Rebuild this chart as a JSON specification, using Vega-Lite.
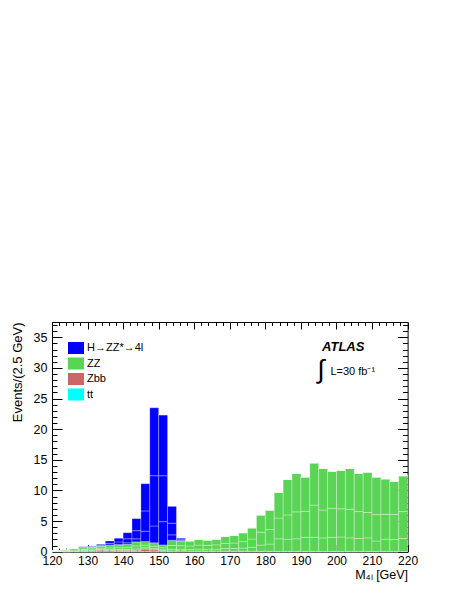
{
  "$schema": "https://vega.github.io/schema/vega-lite/v6.json",
  "width": 355.6,
  "height": 229.7,
  "autosize": {"type": "none"},
  "padding": {"left": 52, "top": 322, "right": 55.4, "bottom": 47.3},
  "background": "white",
  "config": {
    "view": {"stroke": null},
    "font": "Liberation Sans",
    "axis": {
      "domainColor": "black", "tickColor": "black", "domainWidth": 1, "tickWidth": 1,
      "grid": false, "labelFont": "Liberation Sans", "labelFontSize": 12.5, "labelColor": "black",
      "labelFlush": false, "labelOverlap": false, "titleFont": "Liberation Sans", "titleFontWeight": "normal",
      "titleColor": "black"
    }
  },
  "data": {
    "values": [
      {"lo": 120, "hi": 122.5, "a_tt": 0, "b_zbb": 0, "c_zz1": 0.03, "c_zz2": 0.05, "c_zz3": 0.07, "d_h1": 0, "d_h2": 0, "d_h3": 0},
      {"lo": 122.5, "hi": 125, "a_tt": 0, "b_zbb": 0, "c_zz1": 0.05, "c_zz2": 0.1, "c_zz3": 0.15, "d_h1": 0, "d_h2": 0, "d_h3": 0},
      {"lo": 125, "hi": 127.5, "a_tt": 0, "b_zbb": 0.05, "c_zz1": 0.08, "c_zz2": 0.17, "c_zz3": 0.25, "d_h1": 0, "d_h2": 0, "d_h3": 0},
      {"lo": 127.5, "hi": 130, "a_tt": 0, "b_zbb": 0.1, "c_zz1": 0.09, "c_zz2": 0.19, "c_zz3": 0.27, "d_h1": 0.02, "d_h2": 0.05, "d_h3": 0.08},
      {"lo": 130, "hi": 132.5, "a_tt": 0, "b_zbb": 0.15, "c_zz1": 0.1, "c_zz2": 0.21, "c_zz3": 0.29, "d_h1": 0.02, "d_h2": 0.05, "d_h3": 0.08},
      {"lo": 132.5, "hi": 135, "a_tt": 0, "b_zbb": 0.25, "c_zz1": 0.11, "c_zz2": 0.23, "c_zz3": 0.31, "d_h1": 0.04, "d_h2": 0.1, "d_h3": 0.16},
      {"lo": 135, "hi": 137.5, "a_tt": 0, "b_zbb": 0.2, "c_zz1": 0.14, "c_zz2": 0.28, "c_zz3": 0.38, "d_h1": 0.1, "d_h2": 0.26, "d_h3": 0.39},
      {"lo": 137.5, "hi": 140, "a_tt": 0.03, "b_zbb": 0.2, "c_zz1": 0.14, "c_zz2": 0.29, "c_zz3": 0.39, "d_h1": 0.15, "d_h2": 0.4, "d_h3": 0.6},
      {"lo": 140, "hi": 142.5, "a_tt": 0.03, "b_zbb": 0.2, "c_zz1": 0.16, "c_zz2": 0.34, "c_zz3": 0.47, "d_h1": 0.25, "d_h2": 0.66, "d_h3": 0.99},
      {"lo": 142.5, "hi": 145, "a_tt": 0.03, "b_zbb": 0.2, "c_zz1": 0.23, "c_zz2": 0.48, "c_zz3": 0.66, "d_h1": 0.5, "d_h2": 1.33, "d_h3": 1.97},
      {"lo": 145, "hi": 147.5, "a_tt": 0.03, "b_zbb": 0.4, "c_zz1": 0.21, "c_zz2": 0.43, "c_zz3": 0.58, "d_h1": 1.7, "d_h2": 3.3, "d_h3": 4.45},
      {"lo": 147.5, "hi": 150, "a_tt": 0, "b_zbb": 0.3, "c_zz1": 0.2, "c_zz2": 0.4, "c_zz3": 0.55, "d_h1": 2.75, "d_h2": 8.2, "d_h3": 11.1},
      {"lo": 150, "hi": 152.5, "a_tt": 0, "b_zbb": 0.15, "c_zz1": 0.16, "c_zz2": 0.33, "c_zz3": 0.46, "d_h1": 3.8, "d_h2": 7.5, "d_h3": 9.9},
      {"lo": 152.5, "hi": 155, "a_tt": 0, "b_zbb": 0.1, "c_zz1": 0.3, "c_zz2": 0.61, "c_zz3": 0.84, "d_h1": 0.9, "d_h2": 1.9, "d_h3": 2.75},
      {"lo": 155, "hi": 157.5, "a_tt": 0, "b_zbb": 0.15, "c_zz1": 0.27, "c_zz2": 0.56, "c_zz3": 0.77, "d_h1": 0.06, "d_h2": 0.16, "d_h3": 0.23},
      {"lo": 157.5, "hi": 160, "a_tt": 0, "b_zbb": 0.1, "c_zz1": 0.27, "c_zz2": 0.56, "c_zz3": 0.77, "d_h1": 0.01, "d_h2": 0.02, "d_h3": 0.02},
      {"lo": 160, "hi": 162.5, "a_tt": 0, "b_zbb": 0.1, "c_zz1": 0.32, "c_zz2": 0.67, "c_zz3": 0.91, "d_h1": 0, "d_h2": 0, "d_h3": 0},
      {"lo": 162.5, "hi": 165, "a_tt": 0, "b_zbb": 0.1, "c_zz1": 0.31, "c_zz2": 0.63, "c_zz3": 0.86, "d_h1": 0, "d_h2": 0, "d_h3": 0},
      {"lo": 165, "hi": 167.5, "a_tt": 0, "b_zbb": 0.1, "c_zz1": 0.33, "c_zz2": 0.68, "c_zz3": 0.94, "d_h1": 0, "d_h2": 0, "d_h3": 0},
      {"lo": 167.5, "hi": 170, "a_tt": 0, "b_zbb": 0.1, "c_zz1": 0.41, "c_zz2": 0.84, "c_zz3": 1.15, "d_h1": 0, "d_h2": 0, "d_h3": 0},
      {"lo": 170, "hi": 172.5, "a_tt": 0, "b_zbb": 0.1, "c_zz1": 0.43, "c_zz2": 0.89, "c_zz3": 1.23, "d_h1": 0, "d_h2": 0, "d_h3": 0},
      {"lo": 172.5, "hi": 175, "a_tt": 0, "b_zbb": 0.08, "c_zz1": 0.51, "c_zz2": 1.06, "c_zz3": 1.45, "d_h1": 0, "d_h2": 0, "d_h3": 0},
      {"lo": 175, "hi": 177.5, "a_tt": 0, "b_zbb": 0.08, "c_zz1": 0.65, "c_zz2": 1.34, "c_zz3": 1.83, "d_h1": 0, "d_h2": 0, "d_h3": 0},
      {"lo": 177.5, "hi": 180, "a_tt": 0, "b_zbb": 0.08, "c_zz1": 1.0, "c_zz2": 2.1, "c_zz3": 2.82, "d_h1": 0, "d_h2": 0, "d_h3": 0},
      {"lo": 180, "hi": 182.5, "a_tt": 0, "b_zbb": 0.05, "c_zz1": 1.2, "c_zz2": 2.36, "c_zz3": 3.19, "d_h1": 0, "d_h2": 0, "d_h3": 0},
      {"lo": 182.5, "hi": 185, "a_tt": 0, "b_zbb": 0.05, "c_zz1": 2.05, "c_zz2": 3.4, "c_zz3": 4.2, "d_h1": 0, "d_h2": 0, "d_h3": 0},
      {"lo": 185, "hi": 187.5, "a_tt": 0, "b_zbb": 0.05, "c_zz1": 2.0, "c_zz2": 3.95, "c_zz3": 5.8, "d_h1": 0, "d_h2": 0, "d_h3": 0},
      {"lo": 187.5, "hi": 190, "a_tt": 0, "b_zbb": 0.05, "c_zz1": 2.05, "c_zz2": 4.4, "c_zz3": 6.3, "d_h1": 0, "d_h2": 0, "d_h3": 0},
      {"lo": 190, "hi": 192.5, "a_tt": 0, "b_zbb": 0.05, "c_zz1": 2.3, "c_zz2": 4.25, "c_zz3": 5.6, "d_h1": 0, "d_h2": 0, "d_h3": 0},
      {"lo": 192.5, "hi": 195, "a_tt": 0, "b_zbb": 0.05, "c_zz1": 2.3, "c_zz2": 5.25, "c_zz3": 6.9, "d_h1": 0, "d_h2": 0, "d_h3": 0},
      {"lo": 195, "hi": 197.5, "a_tt": 0, "b_zbb": 0.05, "c_zz1": 2.2, "c_zz2": 4.55, "c_zz3": 6.8, "d_h1": 0, "d_h2": 0, "d_h3": 0},
      {"lo": 197.5, "hi": 200, "a_tt": 0, "b_zbb": 0.05, "c_zz1": 2.3, "c_zz2": 4.75, "c_zz3": 6.0, "d_h1": 0, "d_h2": 0, "d_h3": 0},
      {"lo": 200, "hi": 202.5, "a_tt": 0, "b_zbb": 0.05, "c_zz1": 2.35, "c_zz2": 4.6, "c_zz3": 6.3, "d_h1": 0, "d_h2": 0, "d_h3": 0},
      {"lo": 202.5, "hi": 205, "a_tt": 0, "b_zbb": 0.05, "c_zz1": 2.2, "c_zz2": 4.65, "c_zz3": 6.7, "d_h1": 0, "d_h2": 0, "d_h3": 0},
      {"lo": 205, "hi": 207.5, "a_tt": 0, "b_zbb": 0.05, "c_zz1": 2.1, "c_zz2": 4.4, "c_zz3": 6.25, "d_h1": 0, "d_h2": 0, "d_h3": 0},
      {"lo": 207.5, "hi": 210, "a_tt": 0, "b_zbb": 0.05, "c_zz1": 2.2, "c_zz2": 4.15, "c_zz3": 6.6, "d_h1": 0, "d_h2": 0, "d_h3": 0},
      {"lo": 210, "hi": 212.5, "a_tt": 0, "b_zbb": 0.05, "c_zz1": 1.7, "c_zz2": 4.3, "c_zz3": 6.15, "d_h1": 0, "d_h2": 0, "d_h3": 0},
      {"lo": 212.5, "hi": 215, "a_tt": 0, "b_zbb": 0.05, "c_zz1": 2.0, "c_zz2": 4.05, "c_zz3": 5.8, "d_h1": 0, "d_h2": 0, "d_h3": 0},
      {"lo": 215, "hi": 217.5, "a_tt": 0, "b_zbb": 0.05, "c_zz1": 1.95, "c_zz2": 4.1, "c_zz3": 5.4, "d_h1": 0, "d_h2": 0, "d_h3": 0},
      {"lo": 217.5, "hi": 220, "a_tt": 0, "b_zbb": 0.05, "c_zz1": 2.1, "c_zz2": 4.4, "c_zz3": 5.85, "d_h1": 0, "d_h2": 0, "d_h3": 0}
    ]
  },
  "layer": [
    {
      "transform": [
        {"fold": ["a_tt", "b_zbb", "c_zz1", "c_zz2", "c_zz3", "d_h1", "d_h2", "d_h3"], "as": ["key", "value"]},
        {"stack": "value", "groupby": ["lo"], "sort": [{"field": "key", "order": "ascending"}], "as": ["v0", "v1"]}
      ],
      "mark": {"type": "bar", "stroke": "white", "strokeOpacity": 0.3, "strokeWidth": 1},
      "encoding": {
        "x": {
          "field": "lo", "type": "quantitative",
          "scale": {"domain": [120, 220], "nice": false, "zero": false},
          "axis": {
            "orient": "bottom", "values": [120, 130, 140, 150, 160, 170, 180, 190, 200, 210, 220],
            "tickSize": -7, "labelPadding": 11, "labelFontSize": 12,
            "title": "M₄ₗ [GeV]", "titleFontSize": 12.5, "titleX": 355.6, "titleY": 27,
            "titleAlign": "right", "titleBaseline": "alphabetic", "titleAnchor": null
          }
        },
        "x2": {"field": "hi"},
        "y": {
          "field": "v0", "type": "quantitative",
          "scale": {"domain": [0, 37.5], "nice": false},
          "axis": {
            "orient": "left", "values": [0, 5, 10, 15, 20, 25, 30, 35],
            "tickSize": -10, "labelPadding": 15, "labelFontSize": 12.5,
            "title": "Events/(2.5 GeV)", "titleFontSize": 13, "titleX": -31, "titleY": 0,
            "titleAngle": -90, "titleAlign": "right", "titleBaseline": "alphabetic"
          }
        },
        "y2": {"field": "v1"},
        "color": {
          "field": "key", "type": "nominal",
          "scale": {
            "domain": ["a_tt", "b_zbb", "c_zz1", "c_zz2", "c_zz3", "d_h1", "d_h2", "d_h3"],
            "range": ["#00ffff", "#cc6666", "#59d454", "#59d454", "#59d454", "#0000ff", "#0000ff", "#0000ff"]
          },
          "legend": {
            "values": ["d_h1", "c_zz1", "b_zbb", "a_tt"],
            "labelExpr": "datum.label == 'd_h1' ? 'H→ZZ*→4l' : datum.label == 'c_zz1' ? 'ZZ' : datum.label == 'b_zbb' ? 'Zbb' : 'tt'",
            "orient": "none", "legendX": 16, "legendY": 18, "title": null, "padding": 0,
            "symbolType": "M-1,-0.75H1V0.75H-1Z", "symbolSize": 256, "symbolStrokeWidth": 0,
            "symbolOpacity": 1, "labelFont": "Liberation Sans", "labelFontSize": 11, "labelColor": "black",
            "labelOffset": 3, "rowPadding": 1.5
          }
        }
      }
    },
    {
      "mark": {"type": "point", "opacity": 0},
      "encoding": {
        "x": {"field": "lo", "type": "quantitative", "axis": {"orient": "top", "values": [120, 130, 140, 150, 160, 170, 180, 190, 200, 210, 220], "labels": false, "tickSize": -7, "title": null}},
        "y": {"field": "c_zz1", "type": "quantitative", "axis": {"orient": "right", "values": [0, 5, 10, 15, 20, 25, 30, 35], "labels": false, "tickSize": -10, "title": null}}
      }
    },
    {
      "mark": {"type": "point", "opacity": 0},
      "encoding": {
        "x": {"field": "lo", "type": "quantitative", "axis": {"orient": "bottom", "values": [122, 124, 126, 128, 132, 134, 136, 138, 142, 144, 146, 148, 152, 154, 156, 158, 162, 164, 166, 168, 172, 174, 176, 178, 182, 184, 186, 188, 192, 194, 196, 198, 202, 204, 206, 208, 212, 214, 216, 218], "labels": false, "tickSize": -3.5, "title": null, "domain": false}},
        "y": {"field": "c_zz1", "type": "quantitative", "axis": {"orient": "left", "values": [1, 2, 3, 4, 6, 7, 8, 9, 11, 12, 13, 14, 16, 17, 18, 19, 21, 22, 23, 24, 26, 27, 28, 29, 31, 32, 33, 34, 36, 37], "labels": false, "tickSize": -5, "title": null, "domain": false}}
      }
    },
    {
      "mark": {"type": "point", "opacity": 0},
      "encoding": {
        "x": {"field": "lo", "type": "quantitative", "axis": {"orient": "top", "values": [122, 124, 126, 128, 132, 134, 136, 138, 142, 144, 146, 148, 152, 154, 156, 158, 162, 164, 166, 168, 172, 174, 176, 178, 182, 184, 186, 188, 192, 194, 196, 198, 202, 204, 206, 208, 212, 214, 216, 218], "labels": false, "tickSize": -3.5, "title": null, "domain": false}},
        "y": {"field": "c_zz1", "type": "quantitative", "axis": {"orient": "right", "values": [1, 2, 3, 4, 6, 7, 8, 9, 11, 12, 13, 14, 16, 17, 18, 19, 21, 22, 23, 24, 26, 27, 28, 29, 31, 32, 33, 34, 36, 37], "labels": false, "tickSize": -5, "title": null, "domain": false}}
      }
    },
    {
      "data": {"values": [{"x": 201.9, "y": 32.84, "t": "ATLAS"}]},
      "mark": {"type": "text", "font": "Liberation Sans", "fontSize": 13, "fontWeight": "bold", "fontStyle": "italic", "align": "center", "baseline": "alphabetic", "color": "black"},
      "encoding": {
        "x": {"field": "x", "type": "quantitative", "axis": null},
        "y": {"field": "y", "type": "quantitative", "axis": null},
        "text": {"field": "t"}
      }
    },
    {
      "data": {"values": [{"x": 198.3, "y": 28.9, "t": "L=30 fb⁻¹"}]},
      "mark": {"type": "text", "font": "Liberation Sans", "fontSize": 11, "align": "left", "baseline": "alphabetic", "color": "black"},
      "encoding": {
        "x": {"field": "x", "type": "quantitative", "axis": null},
        "y": {"field": "y", "type": "quantitative", "axis": null},
        "text": {"field": "t"}
      }
    },
    {
      "data": {"values": [{"x": 195.6, "y": 29.7, "t": "∫"}]},
      "mark": {"type": "text", "font": "Liberation Sans", "fontSize": 26, "align": "center", "baseline": "middle", "color": "black"},
      "encoding": {
        "x": {"field": "x", "type": "quantitative", "axis": null},
        "y": {"field": "y", "type": "quantitative", "axis": null},
        "text": {"field": "t"}
      }
    }
  ],
  "resolve": {"axis": {"x": "independent", "y": "independent"}}
}
